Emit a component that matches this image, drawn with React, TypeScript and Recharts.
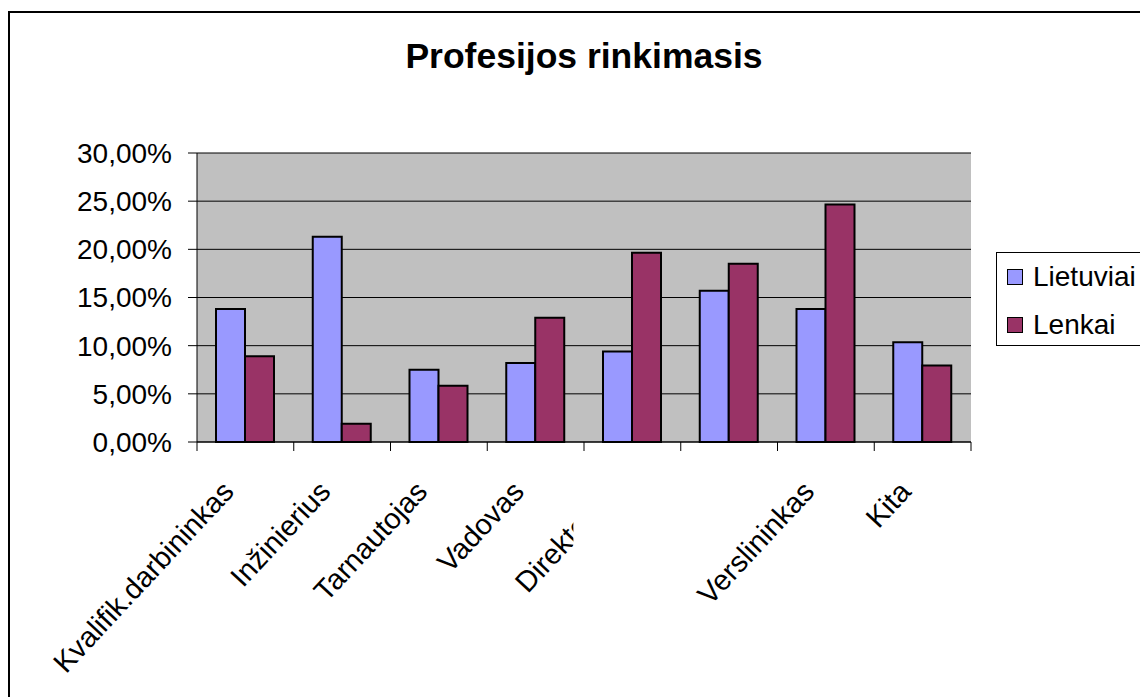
import { Bar, BarChart, CartesianGrid, XAxis, YAxis } from "recharts";

const categories = [
  "Kvalifik.darbininkas",
  "Inžinierius",
  "Tarnautojas",
  "Vadovas",
  "Direktorius",
  "",
  "Verslininkas",
  "Kita",
];
const lietuviai = [13.8, 21.3, 7.5, 8.2, 9.4, 15.7, 13.8, 10.35];
const lenkai = [8.9, 1.9, 5.85, 12.9, 19.65, 18.5, 24.65, 7.95];
const yTicks = [0, 5, 10, 15, 20, 25, 30];
const seriesNames = ["Lietuviai", "Lenkai"];
const seriesColors = ["#9999FF", "#993366"];

const data = categories.map((name, i) => ({
  name,
  lietuviai: lietuviai[i],
  lenkai: lenkai[i],
}));

const FONT = '"Liberation Sans", Arial, sans-serif';
const PLOT_W = 774;
const band = PLOT_W / categories.length;

const fmtPct = (v: number) => `${v.toFixed(2).replace(".", ",")}%`;

function XTick(props: any) {
  const { x, y, payload, index } = props;
  const lx = x - 10;
  const ly = y + 51;
  // the 5th label is cut off in the original (it runs into the next slot)
  const clip = index === 4;
  return (
    <g>
      <line x1={x - band / 2} y1={y} x2={x - band / 2} y2={y + 9} stroke="#000" />
      {index === categories.length - 1 && (
        <line x1={x + band / 2} y1={y} x2={x + band / 2} y2={y + 9} stroke="#000" />
      )}
      {clip && (
        <defs>
          <clipPath id="cut-direkt">
            <rect x={x - 600} y={y} width={600 - 59} height={300} />
          </clipPath>
        </defs>
      )}
      <g clipPath={clip ? "url(#cut-direkt)" : undefined}>
        <text
          x={lx}
          y={ly}
          transform={`rotate(-47 ${lx} ${ly})`}
          textAnchor="end"
          fontSize={29}
          fontFamily={FONT}
          fill="#000"
        >
          {payload.value}
        </text>
      </g>
    </g>
  );
}

export default function App() {
  return (
    <div
      style={{
        position: "fixed",
        left: 0,
        top: 0,
        width: 1140,
        height: 697,
        overflow: "hidden",
        background: "#fff",
        fontFamily: FONT,
      }}
    >
      <div
        style={{
          position: "absolute",
          left: 8,
          top: 11,
          width: 1200,
          height: 800,
          border: "2px solid #000",
        }}
      />
      <div
        style={{
          position: "absolute",
          left: 0,
          top: 39,
          width: 1168,
          textAlign: "center",
          fontSize: 35.5,
          lineHeight: 1,
          fontWeight: "bold",
        }}
      >
        Profesijos rinkimasis
      </div>

      <div style={{ position: "absolute", left: 0, top: 0 }}>
        <BarChart
          width={1140}
          height={697}
          data={data}
          margin={{ top: 153, right: 169, left: 77, bottom: 55 }}
          barGap={0}
          barSize={29}
        >
          <CartesianGrid vertical={false} stroke="#000" fill="#C0C0C0" />
          <XAxis
            dataKey="name"
            height={200}
            interval={0}
            tickLine={false}
            tickSize={0}
            tickMargin={0}
            axisLine={{ stroke: "#000", strokeWidth: 1 }}
            tick={<XTick />}
          />
          <XAxis
            xAxisId="top"
            dataKey="name"
            orientation="top"
            height={0}
            tick={false}
            tickLine={false}
            axisLine={{ stroke: "#808080", strokeWidth: 2 }}
          />
          <YAxis
            type="number"
            domain={[0, 30]}
            ticks={yTicks}
            width={120}
            tickSize={9}
            tickMargin={16}
            tickFormatter={fmtPct}
            tick={{ fontSize: 28, fill: "#000", fontFamily: FONT }}
            tickLine={{ stroke: "#000" }}
            axisLine={{ stroke: "#000", strokeWidth: 1 }}
          />
          <YAxis
            yAxisId="r"
            orientation="right"
            type="number"
            domain={[0, 30]}
            width={0}
            tick={false}
            tickLine={false}
            axisLine={{ stroke: "#808080", strokeWidth: 2 }}
          />
          <Bar
            dataKey="lietuviai"
            name={seriesNames[0]}
            fill={seriesColors[0]}
            stroke="#000"
            strokeWidth={2}
            isAnimationActive={false}
          />
          <Bar
            dataKey="lenkai"
            name={seriesNames[1]}
            fill={seriesColors[1]}
            stroke="#000"
            strokeWidth={2}
            isAnimationActive={false}
          />
        </BarChart>
      </div>

      <div
        style={{
          position: "absolute",
          left: 996,
          top: 252,
          width: 200,
          height: 92,
          border: "1px solid #000",
          background: "#fff",
        }}
      >
        {seriesNames.map((n, i) => (
          <div
            key={n}
            style={{
              position: "absolute",
              left: 10,
              top: 8 + i * 48,
              height: 32,
              display: "flex",
              alignItems: "center",
              fontSize: 28,
            }}
          >
            <span
              style={{
                display: "inline-block",
                width: 14,
                height: 14,
                border: "1px solid #000",
                background: seriesColors[i],
                marginRight: 10,
              }}
            />
            {n}
          </div>
        ))}
      </div>
    </div>
  );
}
